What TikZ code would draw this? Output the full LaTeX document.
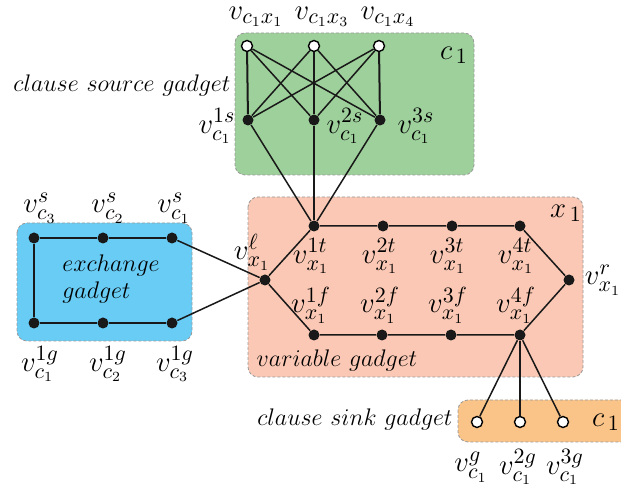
\documentclass[tikz,border=0pt]{standalone}
\begin{document}
\begin{tikzpicture}[x=0.5pt,y=-0.5pt,
  bdot/.style={circle,fill=black!90,inner sep=0pt,minimum size=5.5pt},
  wdot/.style={circle,draw=black,fill=white,line width=0.7pt,inner sep=0pt,minimum size=5.5pt},
  edge/.style={line width=0.75pt,black!90},
  tedge/.style={line width=1pt,black!90},
  gbox/.style={draw=black!40,dashed,dash pattern=on 1.5pt off 1pt,rounded corners=5pt,line width=0.4pt},
  lab/.style={font=\fontsize{15}{18}\selectfont,inner sep=0pt},
  txt/.style={font=\fontsize{12}{14}\selectfont,inner sep=0pt}]
\definecolor{gfill}{RGB}{158,208,156}
\definecolor{sfill}{RGB}{250,200,180}
\definecolor{bfill}{RGB}{104,204,245}
\definecolor{ofill}{RGB}{250,196,136}
\useasboundingbox (0,0) rectangle (621,491);
\clip (0,0) rectangle (621,491);
% boxes
\draw[gbox,fill=gfill] (235,33) rectangle (474,175);
\draw[gbox,fill=sfill] (248,197) rectangle (583,377);
\draw[gbox,fill=bfill] (17,223) rectangle (192,341);
\draw[gbox,fill=ofill] (458,400) rectangle (640,442);
% clause source nodes
\node[wdot] (w1) at (247,46) {};
\node[wdot] (w2) at (314,46) {};
\node[wdot] (w3) at (379,46) {};
\node[bdot] (s1) at (248,120) {};
\node[bdot] (s2) at (314,120) {};
\node[bdot] (s3) at (380,120) {};
% variable nodes
\node[bdot] (t1) at (314,226) {};
\node[bdot] (t2) at (383,226) {};
\node[bdot] (t3) at (452,226) {};
\node[bdot] (t4) at (520,226) {};
\node[bdot] (f1) at (314,335) {};
\node[bdot] (f2) at (382,335) {};
\node[bdot] (f3) at (451,335) {};
\node[bdot] (f4) at (520,335) {};
\node[bdot] (vl) at (265,280) {};
\node[bdot] (vr) at (569,280) {};
% exchange nodes
\node[bdot] (a3) at (34,238) {};
\node[bdot] (a2) at (103,238) {};
\node[bdot] (a1) at (172,238) {};
\node[bdot] (b1) at (34,323) {};
\node[bdot] (b2) at (103,323) {};
\node[bdot] (b3) at (172,323) {};
% sink nodes
\node[wdot] (g1) at (477,422) {};
\node[wdot] (g2) at (520,422) {};
\node[wdot] (g3) at (563,422) {};
% edges
\draw[tedge] (w1) -- (s1);
\draw[tedge] (w2) -- (s2);
\draw[tedge] (w3) -- (s3);
\draw[edge] (w1) -- (s2);
\draw[edge] (w1) -- (s3);
\draw[edge] (w2) -- (s1);
\draw[edge] (w2) -- (s3);
\draw[edge] (w3) -- (s1);
\draw[edge] (w3) -- (s2);
\draw[edge] (s1) -- (t1);
\draw[tedge] (s2) -- (t1);
\draw[edge] (s3) -- (t1);
\draw[edge] (vl) -- (t1) -- (t2) -- (t3) -- (t4) -- (vr);
\draw[edge] (vl) -- (f1) -- (f2) -- (f3) -- (f4) -- (vr);
\draw[edge] (a1) -- (a2) -- (a3) -- (b1) -- (b2) -- (b3);
\draw[edge] (a1) -- (vl);
\draw[edge] (b3) -- (vl);
\draw[edge] (f4) -- (g1);
\draw[tedge] (f4) -- (g2);
\draw[edge] (f4) -- (g3);
% labels
\node[lab] (lw1) at (256,17) {$v_{c_1x_1}$};
\node[lab] (lw2) at (322,17) {$v_{c_1x_3}$};
\node[lab] (lw3) at (388,17) {$v_{c_1x_4}$};
\node[lab] (ls1) at (217,126) {$v_{c_1}^{1s}$};
\node[lab] (ls2) at (345,126) {$v_{c_1}^{2s}$};
\node[lab] (ls3) at (416,126) {$v_{c_1}^{3s}$};
\node[lab] (lc1) at (454,55) {$c_{\,1}$};
\node[txt] (lsrc) at (122,86) {$clause\ source\ gadget$};
\node[lab] (lt1) at (311,256) {$v_{x_1}^{1t}$};
\node[lab] (lt2) at (380,256) {$v_{x_1}^{2t}$};
\node[lab] (lt3) at (448,256) {$v_{x_1}^{3t}$};
\node[lab] (lt4) at (516,256) {$v_{x_1}^{4t}$};
\node[lab] (lf1) at (311,305) {$v_{x_1}^{1f}$};
\node[lab] (lf2) at (380,305) {$v_{x_1}^{2f}$};
\node[lab] (lf3) at (448,305) {$v_{x_1}^{3f}$};
\node[lab] (lf4) at (516,305) {$v_{x_1}^{4f}$};
\node[lab] (lvl) at (252,252) {$v_{x_1}^{\ell}$};
\node[lab] (lvr) at (603,280) {$v_{x_1}^{r}$};
\node[lab] (lx1) at (566,213) {$x_{\,1}$};
\node[txt] (lvar) at (337,361) {$variable\ gadget$};
\node[lab] (la3) at (40,208) {$v_{c_3}^{s}$};
\node[lab] (la2) at (108,208) {$v_{c_2}^{s}$};
\node[lab] (la1) at (174,208) {$v_{c_1}^{s}$};
\node[lab] (lb1) at (40,364) {$v_{c_1}^{1g}$};
\node[lab] (lb2) at (108,364) {$v_{c_2}^{1g}$};
\node[lab] (lb3) at (175,364) {$v_{c_3}^{1g}$};
\node[txt,anchor=west] (lex1) at (62,266) {$exchange$};
\node[txt,anchor=west] (lex2) at (62,293) {$gadget$};
\node[txt] (lsink) at (355,420) {$clause\ sink\ gadget$};
\node[lab] (lg1) at (471,467) {$v_{c_1}^{g}$};
\node[lab] (lg2) at (518,467) {$v_{c_1}^{2g}$};
\node[lab] (lg3) at (565,467) {$v_{c_1}^{3g}$};
\node[lab] (lc1b) at (606,422) {$c_{\,1}$};
\end{tikzpicture}
\end{document}
